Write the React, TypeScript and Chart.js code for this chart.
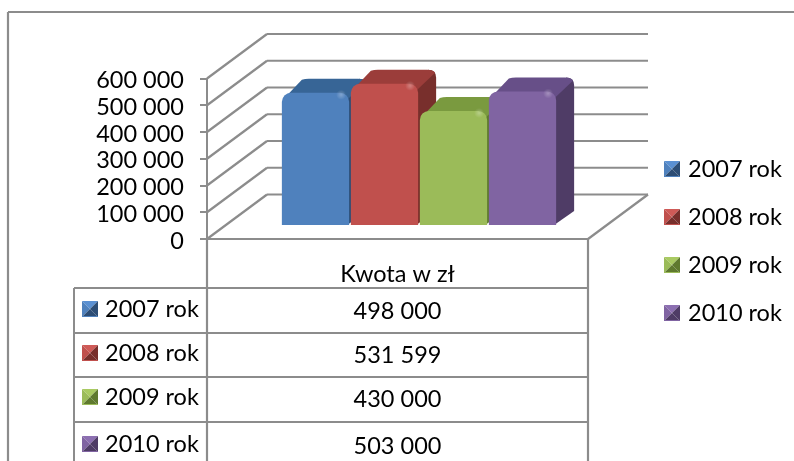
import React, { useEffect, useRef } from "react";
import { Chart, registerables } from "chart.js";

Chart.register(...registerables);

const categories = ["Kwota w zł"];
const seriesNames = ["2007 rok", "2008 rok", "2009 rok", "2010 rok"];
const seriesValues = [498000, 531599, 430000, 503000];
const tickStep = 100000;
const axisMax = 600000;

const frontColors = ["#4f81bd", "#c0504d", "#9bbb59", "#8064a2"];
const lightColors = ["#5a90d2", "#cf5a57", "#a9ca62", "#8c6fb1"];
const darkEdge = ["#2f5f96", "#8f3532", "#76953b", "#5c4480"];
const topColors = ["#376596", "#9b3d3a", "#7a9a3f", "#674f88"];
const sideColors = ["#2c4d75", "#782f2c", "#5f7a2e", "#4f3c66"];

const LINE = "#8c8c8c";
const FONT = "Lato, Carlito, sans-serif";
const FONT_SIZE = 23.5;

const depthX = 60;
const depthY = -44.5;
const barShiftX = 21.5;
const barShiftY = -13;
const barDepthX = 18;
const barDepthY = -14;

const tableRows = [288, 333, 377, 422];
const tableTextY = [311, 355, 399, 446];
const legendY = [169, 217, 265, 313];

const fmt = (v: number) => String(v).replace(/\B(?=(\d{3})+$)/g, " ");

function seg(c: CanvasRenderingContext2D, x1: number, y1: number, x2: number, y2: number, w = 2.2, col = LINE) {
  c.strokeStyle = col;
  c.lineWidth = w;
  c.beginPath();
  c.moveTo(x1, y1);
  c.lineTo(x2, y2);
  c.stroke();
}

function key(c: CanvasRenderingContext2D, x: number, y: number, i: number) {
  const s = 16;
  const mx = x + s / 2;
  const my = y + s / 2;
  const tri = (ax: number, ay: number, bx: number, by: number, col: string) => {
    c.fillStyle = col;
    c.beginPath();
    c.moveTo(ax, ay);
    c.lineTo(bx, by);
    c.lineTo(mx, my);
    c.closePath();
    c.fill();
  };
  tri(x, y, x + s, y, lightColors[i]);
  tri(x, y, x, y + s, frontColors[i]);
  tri(x + s, y, x + s, y + s, sideColors[i]);
  tri(x, y + s, x + s, y + s, sideColors[i]);
  c.fillStyle = frontColors[i];
  c.fillRect(x, y + s - 1, s, 1);
}

function depthFaces(c: CanvasRenderingContext2D, el: any, i: number) {
  const x1 = el.x - el.width / 2;
  const x2 = el.x + el.width / 2;
  const top = el.y;
  const base = el.base;
  c.fillStyle = sideColors[i];
  c.beginPath();
  c.moveTo(x2 - 4, top + 6);
  c.lineTo(x2 + barDepthX - 8, top + barDepthY);
  c.quadraticCurveTo(x2 + barDepthX, top + barDepthY, x2 + barDepthX, top + barDepthY + 8);
  c.lineTo(x2 + barDepthX, base + barDepthY);
  c.lineTo(x2 - 2, base);
  c.closePath();
  c.fill();
  c.fillStyle = topColors[i];
  c.beginPath();
  c.moveTo(x1 + 1, top + 7);
  c.lineTo(x1 + barDepthX + 2, top + barDepthY + 1);
  c.quadraticCurveTo(x1 + barDepthX + 5, top + barDepthY, x1 + barDepthX + 9, top + barDepthY);
  c.lineTo(x2 + barDepthX - 9, top + barDepthY);
  c.quadraticCurveTo(x2 + barDepthX - 3, top + barDepthY, x2 + barDepthX - 1, top + barDepthY + 3);
  c.lineTo(x2 - 2, top + 7);
  c.closePath();
  c.fill();
}

const scenePlugin = {
  id: "scene",
  beforeDatasetsDraw(chart: any) {
    const c: CanvasRenderingContext2D = chart.ctx;
    const ys = chart.scales.y;
    const { left, right, bottom } = chart.chartArea;
    c.save();
    ys.ticks.forEach((t: any) => {
      const y = ys.getPixelForValue(t.value);
      seg(c, left, y, left + depthX, y + depthY);
      seg(c, left + depthX, y + depthY, right + depthX, y + depthY);
    });
    seg(c, left, bottom, right, bottom);
    seg(c, right, bottom, right + depthX, bottom + depthY);
    c.restore();
  },
  // Chart.js paints datasets last-to-first; the 3D look needs first-to-last.
  beforeDatasetDraw() {
    return false;
  },
  afterDatasetsDraw(chart: any) {
    const c: CanvasRenderingContext2D = chart.ctx;
    chart.data.datasets.forEach((_: any, i: number) => {
      const meta = chart.getDatasetMeta(i);
      const el = meta.data[0];
      c.save();
      c.translate(barShiftX, barShiftY);
      depthFaces(c, el, i);
      meta.controller.draw();
      const x2 = el.x + el.width / 2;
      const g = c.createRadialGradient(x2 - 8, el.y + 2, 0, x2 - 8, el.y + 2, 5);
      g.addColorStop(0, "rgba(255,255,255,0.28)");
      g.addColorStop(1, "rgba(255,255,255,0)");
      c.fillStyle = g;
      c.fillRect(x2 - 14, el.y - 3, 12, 10);
      c.restore();
    });
  },
  afterDraw(chart: any) {
    const c: CanvasRenderingContext2D = chart.ctx;
    const { left, right, bottom } = chart.chartArea;
    const h = chart.height;
    const w = chart.width;
    const labelLeft = 74;
    c.save();
    seg(c, 8, 12, w, 12);
    seg(c, 8, 12, 8, h);
    seg(c, left, bottom, left, h);
    seg(c, right, bottom, right, h);
    seg(c, labelLeft, tableRows[0], labelLeft, h, 2);
    tableRows.forEach((y) => seg(c, labelLeft, y, right, y, 2));
    c.font = `${FONT_SIZE}px ${FONT}`;
    c.textBaseline = "middle";
    chart.data.datasets.forEach((ds: any, i: number) => {
      key(c, 82, tableTextY[i] - 10, i);
      key(c, 664, legendY[i] - 8, i);
      c.fillStyle = "#000";
      c.textAlign = "left";
      c.fillText(ds.label, 105, tableTextY[i] - 2);
      c.fillText(ds.label, 688, legendY[i]);
      c.textAlign = "center";
      c.fillText(fmt(ds.data[0]), (left + right) / 2, tableTextY[i]);
    });
    c.restore();
  },
};

export default function App() {
  const ref = useRef<HTMLCanvasElement>(null);
  useEffect(() => {
    const chart = new Chart(ref.current!, {
      type: "bar",
      data: {
        labels: categories,
        datasets: seriesNames.map((name, i) => ({
          label: name,
          data: [seriesValues[i]],
          categoryPercentage: 0.7244,
          barPercentage: 0.975,
          borderWidth: 0,
          borderRadius: { topLeft: 9, topRight: 9, bottomLeft: 2, bottomRight: 2 },
          backgroundColor: (ctx: any) => {
            const el = ctx.chart.getDatasetMeta(ctx.datasetIndex).data[0];
            if (!el || !el.width) return frontColors[i];
            const x1 = el.x - el.width / 2;
            const g = ctx.chart.ctx.createLinearGradient(x1, 0, x1 + el.width, 0);
            g.addColorStop(0, darkEdge[i]);
            g.addColorStop(0.06, frontColors[i]);
            g.addColorStop(0.8, frontColors[i]);
            g.addColorStop(0.86, lightColors[i]);
            g.addColorStop(0.96, lightColors[i]);
            g.addColorStop(1, darkEdge[i]);
            return g;
          },
        })),
      },
      options: {
        responsive: false,
        animation: false,
        layout: { padding: { left: 0, right: 206, top: 78.5, bottom: 172 } },
        plugins: { legend: { display: false }, tooltip: { enabled: false }, title: { display: false } },
        scales: {
          x: {
            grid: { display: false },
            border: { display: false },
            afterFit: (s: any) => { s.height = 50; },
            ticks: { color: "#000", font: { family: FONT, size: FONT_SIZE }, padding: 13, maxRotation: 0 },
          },
          y: {
            min: 0,
            max: axisMax,
            afterFit: (s: any) => { s.width = 207; },
            border: { display: true, color: LINE, width: 2 },
            grid: { drawOnChartArea: false, drawTicks: true, tickLength: 7, color: LINE, lineWidth: 2 },
            ticks: {
              stepSize: tickStep,
              autoSkip: false,
              color: "#000",
              padding: 16,
              labelOffset: 2,
              font: { family: FONT, size: FONT_SIZE },
              callback: (v: any) => fmt(Number(v)),
            },
          },
        },
      },
      plugins: [scenePlugin as any],
    });
    return () => chart.destroy();
  }, []);
  return (
    <div style={{ position: "fixed", left: 0, top: 0, width: 794, height: 461, background: "#fff", overflow: "hidden" }}>
      <canvas ref={ref} width={794} height={461} style={{ display: "block" }} />
    </div>
  );
}
